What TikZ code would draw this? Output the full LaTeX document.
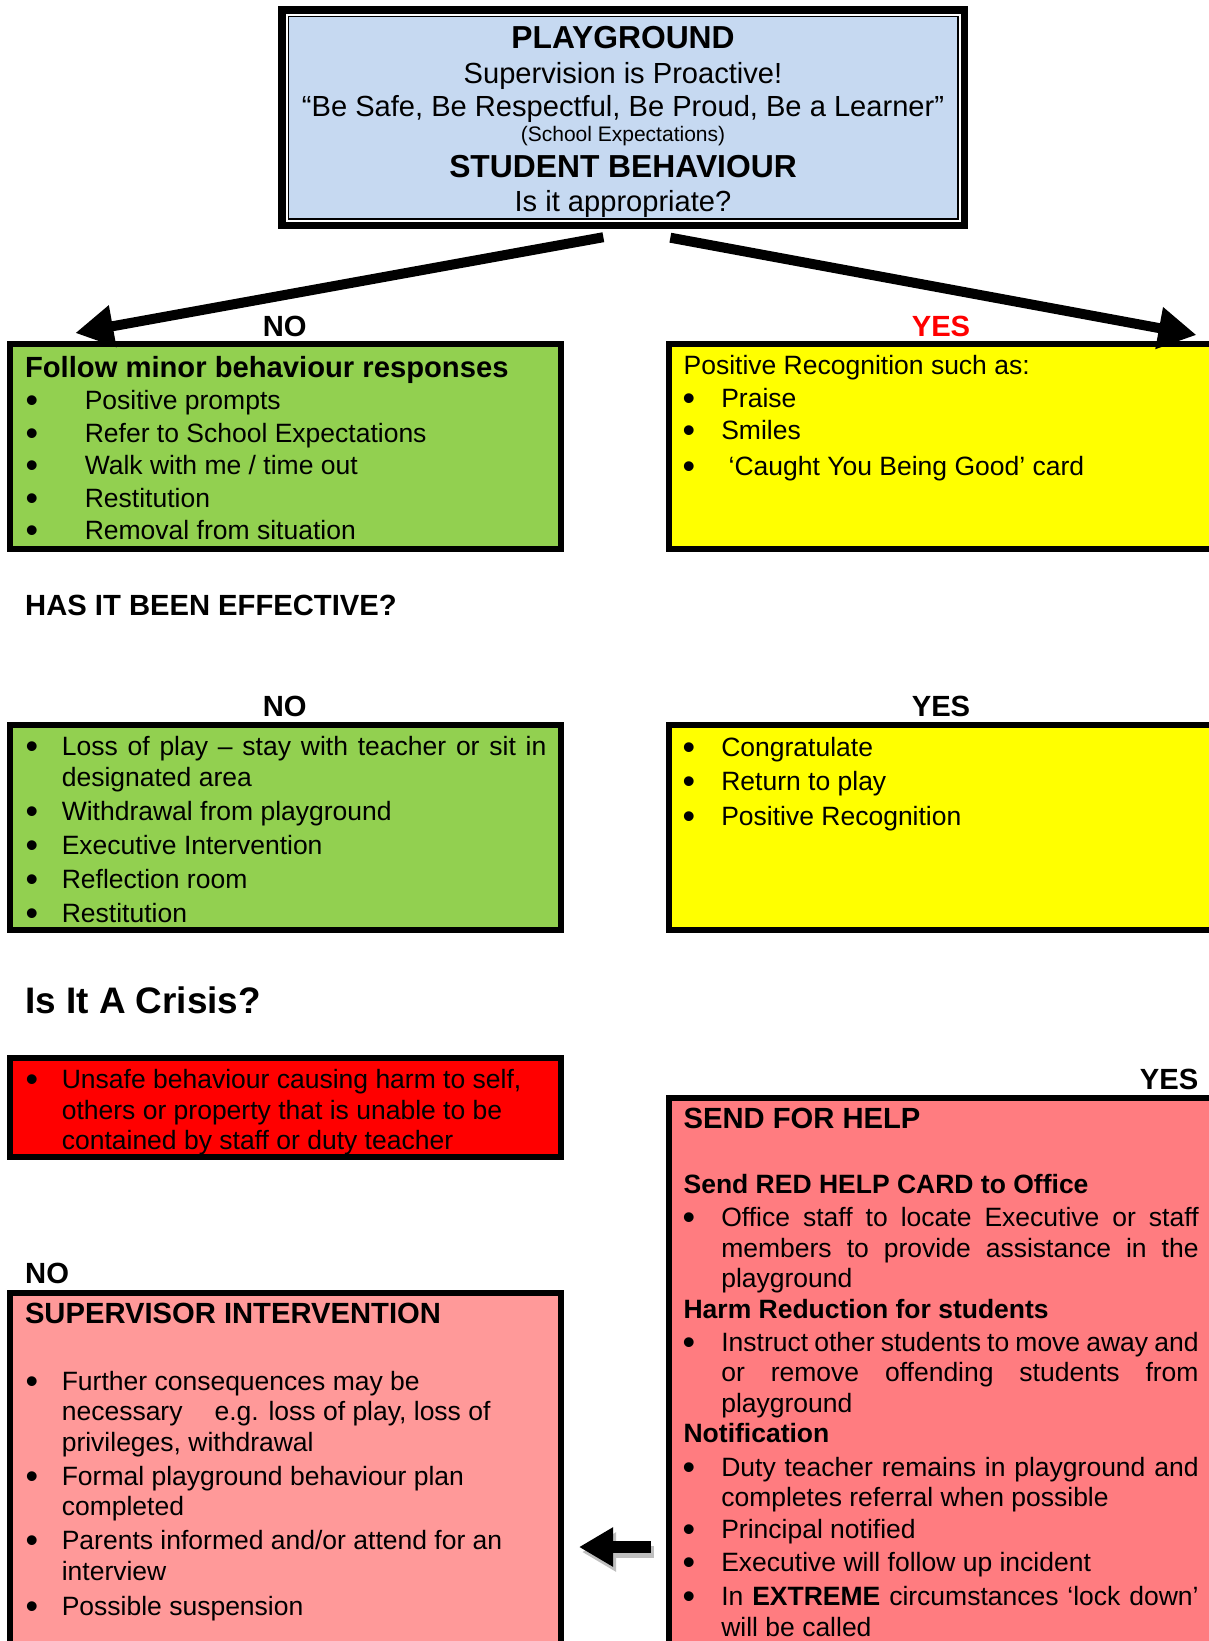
\documentclass[tikz,border=0pt]{standalone}
\usepackage{fontspec}
\usepackage{graphicx}
\setmainfont{Liberation Sans}
\usetikzlibrary{arrows.meta}
\definecolor{topblue}{HTML}{C6D9F1}
\definecolor{grn}{HTML}{92D050}
\definecolor{yel}{HTML}{FFFF00}
\definecolor{rd}{HTML}{FF0000}
\definecolor{pinkR}{HTML}{FF7C80}
\definecolor{pinkL}{HTML}{FF9999}
\newlength\bind
\newlength\tind
\newcommand\bigbul{\raisebox{-3pt}{\scalebox{1.35}{\textbullet}}}
\newcommand\headf{\fontsize{29.2}{30.4}\selectfont\bfseries}
\newcommand\BL[1]{\par\noindent\makebox[\tind][l]{\hspace*{\bind}\bigbul}#1}
\newcommand\BJ[1]{\par\noindent\makebox[\tind][l]{\hspace*{\bind}\bigbul}\makebox[\dimexpr\linewidth-\tind\relax][s]{#1}}
\newcommand\CL[1]{\par\noindent\hspace*{\tind}#1}
\newcommand\CJ[1]{\par\noindent\hspace*{\tind}\makebox[\dimexpr\linewidth-\tind\relax][s]{#1}}
\newcommand\HL[1]{\par\noindent{\headf #1}}
\newcommand\SL[1]{\par\noindent{\bfseries #1}}
\newcommand\gap[1]{\par\vspace{#1}}
\begin{document}
\begin{tikzpicture}[x=1pt,y=-1pt,
  cbox/.style={draw=black, line width=6pt, inner sep=0pt, outer sep=0pt, anchor=north west},
  txt/.style={inner sep=0pt, outer sep=0pt, anchor=base west},
  ctr/.style={inner sep=0pt, outer sep=0pt, anchor=base},
  bigarrow/.style={line width=10pt, -{Triangle[length=38pt,width=40pt]}},
  smallarrow/.style={line width=12pt, -{Triangle[length=34pt,width=37pt]}},
  lbl/.style={inner sep=0pt, font=\fontsize{29.2}{30}\selectfont\bfseries}]
\fill[white] (0,0) rectangle (1208,1641);
\path[use as bounding box] (0,0) rectangle (1208,1641);

% top box
\node[fill=black, inner sep=0pt, outer sep=0pt, minimum width=689.9pt, minimum height=222.9pt, anchor=north west] (top) at (278.4,6.3) {};
\fill[white] ([shift={(7.5,7.5)}]top.north west) rectangle ([shift={(-7.5,-7.5)}]top.south east);
\fill[black] ([shift={(9.5,9.5)}]top.north west) rectangle ([shift={(-9.5,-9.5)}]top.south east);
\fill[topblue] ([shift={(11,11)}]top.north west) rectangle ([shift={(-11,-11)}]top.south east);
\node[ctr, font=\fontsize{31.8}{34}\selectfont\bfseries] (t1) at (623,48) {PLAYGROUND};
\node[ctr, font=\fontsize{29.1}{31}\selectfont] (t2) at (623,83) {Supervision is Proactive!};
\node[ctr, font=\fontsize{29.1}{31}\selectfont] (t3) at (623,116) {“Be Safe, Be Respectful, Be Proud, Be a Learner”};
\node[ctr, font=\fontsize{21}{23}\selectfont] (t4) at (623,141) {(School Expectations)};
\node[ctr, font=\fontsize{31.8}{34}\selectfont\bfseries] (t5) at (623,177.5) {STUDENT BEHAVIOUR};
\node[ctr, font=\fontsize{29.1}{31}\selectfont] (t6) at (623,211) {Is it appropriate?};

% colored boxes
\node[cbox, fill=grn, minimum width=550.9pt, minimum height=204.4pt] (g1) at (10.3,344.3) {};
\node[cbox, fill=yel, minimum width=546pt, minimum height=204.4pt] (y1) at (668.8,344.3) {};
\node[cbox, fill=grn, minimum width=550.9pt, minimum height=204.4pt] (g2) at (10.3,725.3) {};
\node[cbox, fill=yel, minimum width=546pt, minimum height=204.4pt] (y2) at (668.8,725.3) {};
\node[cbox, fill=rd, minimum width=550.9pt, minimum height=98.7pt] (r1) at (10.3,1058.2) {};
\node[cbox, fill=pinkR, minimum width=546pt, minimum height=560pt] (pr) at (668.8,1098) {};
\node[cbox, fill=pinkL, minimum width=550.9pt, minimum height=360pt] (pl) at (10.3,1292.7) {};

% big arrows
\coordinate (lA) at ([shift={(-20,8)}]top.south);
\coordinate (rA) at ([shift={(47,8.5)}]top.south);
\coordinate (lB) at ([shift={(65,-11.3)}]g1.north west);
\coordinate (rB) at ([shift={(527.7,-9.3)}]y1.north west);
\draw[bigarrow] (lA) -- (lB);
\draw[bigarrow] (rA) -- (rB);

% labels
\node[lbl, anchor=base] (no1) at (284.7,336) {NO};
\node[lbl, anchor=base, text=rd] (yes1) at (941,336) {YES};
\node[lbl, anchor=base west] (eff) at (25,615.5) {HAS IT BEEN EFFECTIVE?};
\node[lbl, anchor=base] (no2) at (284.7,716) {NO};
\node[lbl, anchor=base] (yes2) at (941,716) {YES};
\node[inner sep=0pt, anchor=base west, font=\fontsize{36.9}{40}\selectfont\bfseries] (crisis) at (25,1013) {Is It A Crisis?};
\node[lbl, anchor=base east] (yes3) at (1198.6,1089.5) {YES};
\node[lbl, anchor=base west] (no4) at (25,1283.5) {NO};

% green 1 text
\node[txt] (g1t) at (25,377) {\parbox[t]{520pt}{\fontsize{26.5}{32.5}\selectfont
  \setlength\bind{0.5pt}\setlength\tind{59.8pt}%
  \noindent{\headf Follow minor behaviour responses}%
  \BL{Positive prompts}\BL{Refer to School Expectations}\BL{Walk with me / time out}%
  \BL{Restitution}\BL{Removal from situation}}};

% yellow 1 text
\node[txt] (y1t) at (683.6,374.8) {\parbox[t]{515pt}{\fontsize{26.5}{32.5}\selectfont
  \setlength\bind{-1pt}\setlength\tind{37.7pt}%
  \noindent Positive Recognition such as:%
  \BL{Praise}\BL{Smiles}\gap{3pt}\BL{\ ‘Caught You Being Good’ card}}};

% green 2 text
\node[txt] (g2t) at (25,755.9) {\parbox[t]{521.4pt}{\fontsize{26.5}{31}\selectfont
  \setlength\bind{0.5pt}\setlength\tind{36.8pt}%
  \BJ{Loss of play – stay with teacher or sit in}\CL{designated area}%
  \gap{3pt}\BL{Withdrawal from playground}\gap{3pt}\BL{Executive Intervention}%
  \gap{3pt}\BL{Reflection room}\gap{3pt}\BL{Restitution}}};

% yellow 2 text
\node[txt] (y2t) at (683.6,756) {\parbox[t]{515pt}{\fontsize{26.5}{34.8}\selectfont
  \setlength\bind{-1pt}\setlength\tind{37.7pt}%
  \BL{Congratulate}\BL{Return to play}\BL{Positive Recognition}}};

% red text
\node[txt] (r1t) at (25,1088.8) {\parbox[t]{521.4pt}{\fontsize{26.5}{30.4}\selectfont
  \setlength\bind{0.5pt}\setlength\tind{36.8pt}%
  \BL{Unsafe behaviour causing harm to self,}\CL{others or property that is unable to be}%
  \CL{contained by staff or duty teacher}}};

% pink right text
\node[txt] (prt) at (683.6,1128.5) {\parbox[t]{515pt}{\fontsize{26.5}{30.4}\selectfont
  \setlength\bind{-1pt}\setlength\tind{37.7pt}%
  \noindent{\headf SEND FOR HELP}%
  \gap{34.6pt}\SL{Send RED HELP CARD to Office}%
  \gap{3pt}\BJ{Office staff to locate Executive or staff}\CJ{members to provide assistance in the}\CL{playground}%
  \SL{Harm Reduction for students}%
  \gap{3pt}\BJ{Instruct other students to move away and}\CJ{or remove offending students from}\CL{playground}%
  \SL{Notification}%
  \gap{3pt}\BJ{Duty teacher remains in playground and}\CL{completes referral when possible}%
  \gap{2pt}\BL{Principal notified}%
  \gap{2pt}\BL{Executive will follow up incident}%
  \gap{4.2pt}\BJ{In \textbf{EXTREME} circumstances ‘lock down’}\CL{will be called}}};

% pink left text
\node[txt] (plt) at (25,1323.2) {\parbox[t]{521.4pt}{\fontsize{26.5}{30.5}\selectfont
  \setlength\bind{0.5pt}\setlength\tind{36.8pt}%
  \noindent{\headf SUPERVISOR INTERVENTION}%
  \gap{36.5pt}\BL{Further consequences may be}\CL{necessary\hspace{32pt}e.g. loss of play, loss of}\CL{privileges, withdrawal}%
  \gap{3.5pt}\BL{Formal playground behaviour plan}\CL{completed}%
  \gap{3.5pt}\BL{Parents informed and/or attend for an}\CL{interview}%
  \gap{5pt}\BL{Possible suspension}}};

% small arrow from pink right to pink left
\coordinate (sA) at ([shift={(-18,449)}]pr.north west);
\coordinate (sB) at ([shift={(-89.8,449)}]pr.north west);
\draw[smallarrow, black!25] ([shift={(3,5)}]sA) -- ([shift={(3,5)}]sB);
\draw[smallarrow] (sA) -- (sB);
\end{tikzpicture}
\end{document}
